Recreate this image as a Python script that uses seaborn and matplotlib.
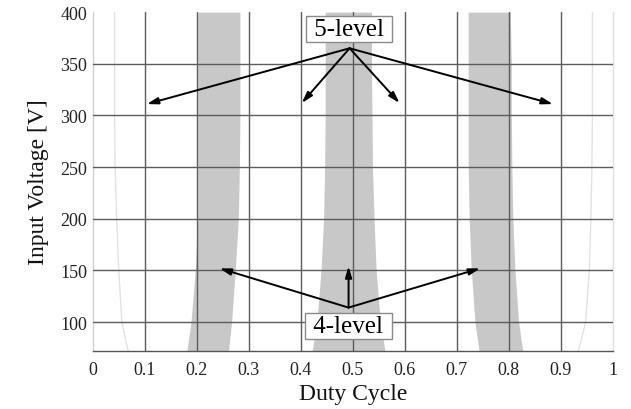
import matplotlib
matplotlib.use("Agg")
import matplotlib.pyplot as plt
import seaborn as sns
import pandas as pd

# ---- data ----
voltage = [72, 100, 150, 200, 250, 300, 350, 400]

# 4-level regions (grey bands): left / right duty-cycle boundaries
band_a_left = [0.181, 0.189, 0.197, 0.202, 0.202, 0.202, 0.202, 0.202]
band_a_right = [0.261, 0.267, 0.274, 0.280, 0.282, 0.283, 0.283, 0.283]
band_b_left = [0.422, 0.431, 0.439, 0.444, 0.446, 0.447, 0.447, 0.447]
band_b_right = [0.562, 0.553, 0.545, 0.541, 0.538, 0.537, 0.536, 0.536]
band_c_left = [0.743, 0.735, 0.728, 0.724, 0.722, 0.722, 0.722, 0.722]
band_c_right = [0.827, 0.819, 0.812, 0.808, 0.806, 0.805, 0.805, 0.803]

# faint outer boundaries
edge_low = [0.068, 0.056, 0.050, 0.046, 0.043, 0.042, 0.042, 0.042]
edge_high = [0.934, 0.948, 0.955, 0.958, 0.960, 0.961, 0.961, 0.961]

x_ticks = [0, 0.1, 0.2, 0.3, 0.4, 0.5, 0.6, 0.7, 0.8, 0.9, 1]
x_tick_labels = ["0", "0.1", "0.2", "0.3", "0.4", "0.5", "0.6", "0.7", "0.8", "0.9", "1"]
y_ticks = [100, 150, 200, 250, 300, 350, 400]

label_5 = "5-level"
label_5_pos = (0.493, 384)
arrows_5_origin = (0.494, 365)
arrows_5_heads = [(0.104, 311), (0.402, 312), (0.590, 312), (0.885, 311)]

label_4 = "4-level"
label_4_pos = (0.492, 96)
arrows_4_origin = (0.492, 114)
arrows_4_heads = [(0.244, 152), (0.492, 154), (0.745, 152)]

# ---- plot ----
sns.set_theme(style="white")
plt.rcParams["font.family"] = ["Liberation Serif", "DejaVu Serif"]

fig = plt.figure(figsize=(6.31, 4.10), dpi=100)
ax = fig.add_axes([0.147, 0.1415, 0.824, 0.8265])

fill_color = "#c8c8c8"
for lo, hi in [(band_a_left, band_a_right), (band_b_left, band_b_right),
               (band_c_left, band_c_right)]:
    ax.fill_betweenx(voltage, lo, hi, color=fill_color, lw=0, zorder=1)

df_edges = pd.DataFrame({"V": voltage + voltage,
                         "D": edge_low + edge_high,
                         "side": ["low"] * len(voltage) + ["high"] * len(voltage)})
sns.lineplot(data=df_edges, x="D", y="V", units="side", estimator=None,
             sort=False, orient="y", color="#e2e2e2", lw=1.0, ax=ax, zorder=1)

ax.set_xlim(0, 1)
ax.set_ylim(72, 400)
ax.set_xticks(x_ticks)
ax.set_xticklabels(x_tick_labels)
ax.set_yticks(y_ticks)

ax.grid(True, color="#5c5c5c", lw=1.0)
ax.set_axisbelow(False)
xt = ax.xaxis.get_major_ticks()
xt[0].gridline.set_visible(False)
xt[-1].gridline.set_visible(False)
yt = ax.yaxis.get_major_ticks()
yt[-1].gridline.set_visible(False)

ax.spines["top"].set_visible(False)
ax.spines["left"].set_color("#d0d0d0")
ax.spines["right"].set_color("#e0e0e0")
ax.spines["bottom"].set_color("#555555")
for s in ["left", "right", "bottom"]:
    ax.spines[s].set_linewidth(1.0)

ax.tick_params(axis="y", direction="in", length=4, width=1, color="#777777",
               labelsize=13, labelcolor="#222222", pad=4)
ax.tick_params(axis="x", length=0, labelsize=13, labelcolor="#222222", pad=7)

ax.set_xlabel("Duty Cycle", fontsize=17, color="#111111", labelpad=4)
ax.set_ylabel("Input Voltage [V]", fontsize=17, color="#111111", labelpad=8)

arrow_kw = dict(arrowstyle="-|>,head_length=0.6,head_width=0.18", color="black",
                lw=1.4, shrinkA=0, shrinkB=0, mutation_scale=11)
for head in arrows_5_heads:
    ax.annotate("", xy=head, xytext=arrows_5_origin, arrowprops=arrow_kw, zorder=4)
for head in arrows_4_heads:
    ax.annotate("", xy=head, xytext=arrows_4_origin, arrowprops=arrow_kw, zorder=4)

box_kw = dict(boxstyle="square,pad=0.08", fc="white", ec="#8a8a8a", lw=1.0)
ax.text(*label_5_pos, " " + label_5 + " ", ha="center", va="center", fontsize=18,
        bbox=box_kw, zorder=5, color="black")
ax.text(*label_4_pos, " " + label_4 + " ", ha="center", va="center", fontsize=18,
        bbox=box_kw, zorder=5, color="black")

fig.savefig("out.png", dpi=100)
